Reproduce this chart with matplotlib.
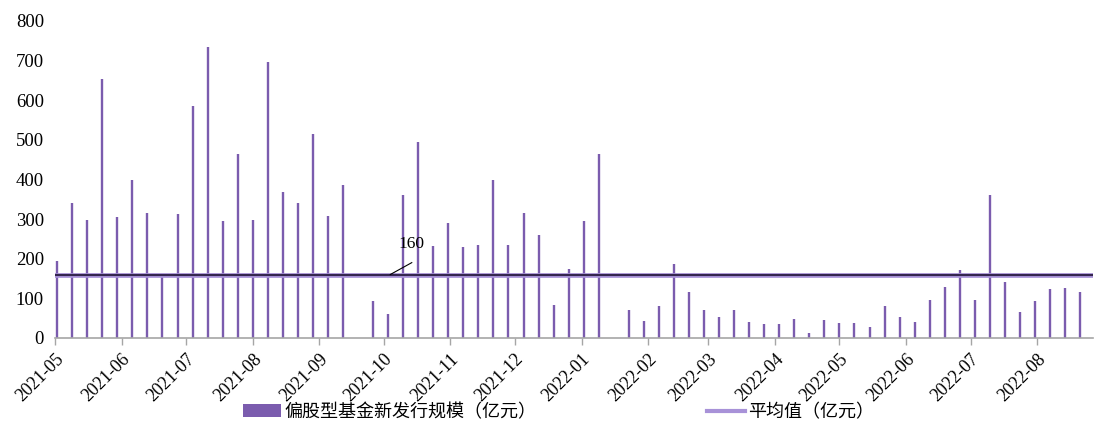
import numpy as np
import pandas as pd
import matplotlib
matplotlib.use('Agg')
import matplotlib.pyplot as plt
import matplotlib.dates as mdates
from matplotlib.lines import Line2D
from matplotlib.patches import Patch

# Weekly issuance of new equity-biased funds (100 million CNY), weeks starting 2021-05-02
week_start = '2021-05-02'
issuance = [195, 340, 297, 653, 306, 398, 315, 155, 313, 586,
            735, 294, 465, 297, 696, 368, 340, 514, 307, 387,
            0, 92, 61, 361, 493, 233, 291, 229, 235, 398,
            235, 315, 260, 83, 175, 294, 465, 0, 71, 43,
            80, 187, 116, 71, 52, 71, 40, 34, 34, 49,
            13, 46, 37, 37, 28, 80, 52, 40, 95, 129,
            172, 95, 361, 141, 65, 92, 123, 125, 117]
mean_value = 160

dates = pd.date_range(week_start, periods=len(issuance), freq='7D')
values = np.array(issuance, dtype=float)

bar_color = '#7b5cae'
mean_color = '#a892d8'
serif = 'Liberation Serif'

fig = plt.figure(figsize=(10.94, 4.23), dpi=100)
ax = fig.add_axes([0.0503, 0.201, 0.9488, 0.750])

# thin weekly bars, constant pixel width
ax.vlines(dates, 0, values, color=bar_color, linewidth=1.7, zorder=2)

# mean line: light outer stroke with dark core
ax.axhline(mean_value, color=mean_color, linewidth=3.4, zorder=3)
ax.axhline(mean_value, color='#35264f', linewidth=1.5, zorder=4)

# value label with leader
ax.plot([pd.Timestamp('2021-10-04'), pd.Timestamp('2021-10-14')], [mean_value, 190],
        color='black', linewidth=0.8, zorder=5)
ax.text(pd.Timestamp('2021-10-14'), 236, str(mean_value), ha='center', va='center',
        fontsize=12.5, family=serif, zorder=5)

ax.set_xlim(pd.Timestamp('2021-05-01'), pd.Timestamp('2022-08-27'))
ax.set_ylim(0, 800)
ax.set_yticks(range(0, 801, 100))

ax.xaxis.set_major_locator(mdates.MonthLocator())
ax.xaxis.set_major_formatter(mdates.DateFormatter('%Y-%m'))
for lab in ax.get_xticklabels():
    lab.set_rotation(45)
    lab.set_ha('right')
    lab.set_rotation_mode('anchor')

ax.tick_params(axis='x', direction='out', length=5, color='#a6a6a6', width=1, pad=4,
               labelsize=13)
ax.tick_params(axis='y', length=0, labelsize=13.5, pad=8)
for lab in ax.get_xticklabels() + ax.get_yticklabels():
    lab.set_family(serif)

for s in ['top', 'right', 'left']:
    ax.spines[s].set_visible(False)
ax.spines['bottom'].set_color('#a6a6a6')
ax.spines['bottom'].set_linewidth(1.2)

handles = [Patch(facecolor=bar_color, edgecolor='none', label='偏股型基金新发行规模（亿元）'),
           Line2D([], [], color=mean_color, linewidth=3, label='平均值（亿元）')]
fig.legend(handles=handles, loc='center', bbox_to_anchor=(0.5105, 0.026), ncol=2,
           frameon=False, handlelength=2.1, handletextpad=0.2, columnspacing=9.45,
           prop={'family': ['Noto Sans CJK SC', 'DejaVu Sans'], 'size': 13})

fig.savefig('out.png', dpi=100)
